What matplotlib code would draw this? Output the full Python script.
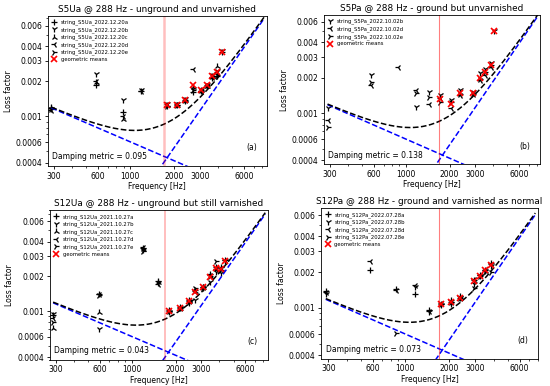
# Loss factor vs frequency for four violin top plates (288 Hz strings)
import numpy as np
import matplotlib.pyplot as plt
from matplotlib.ticker import NullFormatter

nan = np.nan

# --- S5Ua: unground and unvarnished ---
s5ua_freq = [287, 580, 885, 1182, 1773, 2074, 2380, 2702, 3026, 3340, 3615, 3941, 4240]
s5ua_a = [0.00118, 0.00184, 0.00108, 0.00166, 0.00122, 0.00124, 0.00136, 0.00161, 0.00165, 0.00182, 0.00215, 0.00222, 0.00355]
s5ua_b = [0.00115, 0.00229, 0.00139, 0.00168, 0.00128, 0.00128, 0.00140, 0.00170, 0.00169, 0.00186, 0.00225, 0.00245, 0.00365]
s5ua_c = [0.00120, 0.00196, 0.00095, nan, 0.00125, 0.00126, 0.00138, 0.00180, 0.00167, 0.00183, 0.00220, 0.00273, nan]
s5ua_d = [0.00114, 0.00200, 0.00100, 0.00165, 0.00127, 0.00127, 0.00137, 0.00253, 0.00166, 0.00185, 0.00218, 0.00240, nan]
s5ua_e = [0.00116, nan, nan, nan, 0.00123, 0.00125, 0.00139, 0.00168, 0.00168, 0.00184, 0.00222, 0.00228, nan]
s5ua_geo = [0.00125, 0.00126, 0.00138, 0.00184, 0.00167, 0.00184, 0.00220, 0.00240, 0.00360]

# --- S5Pa: ground but unvarnished ---
s5pa_freq = [290, 577, 880, 1165, 1452, 1729, 2047, 2350, 2899, 3222, 3524, 3830, 4070]
s5pa_b = [0.00110, 0.00211, nan, 0.00114, 0.00152, 0.00143, 0.00130, 0.00157, 0.00152, 0.00218, 0.00240, 0.00268, 0.00500]
s5pa_d = [0.00088, 0.00174, 0.00248, 0.00157, 0.00120, 0.00134, 0.00110, 0.00142, 0.00145, 0.00190, 0.00210, 0.00245, nan]
s5pa_e = [0.00076, 0.00185, nan, 0.00149, 0.00138, 0.00125, 0.00124, 0.00147, 0.00147, 0.00196, 0.00226, 0.00256, nan]
s5pa_geo = [0.00133, 0.00121, 0.00148, 0.00148, 0.00200, 0.00225, 0.00256, 0.00500]

# --- S12Ua: unground but still varnished ---
s12ua_freq = [288, 591, 1187, 1502, 1810, 2141, 2460, 2738, 3089, 3439, 3760, 4100, 4390]
s12ua_a = [0.00092, 0.00140, 0.00351, 0.00183, 0.00101, 0.00108, 0.00125, 0.00152, 0.00163, 0.00210, 0.00240, 0.00240, 0.00275]
s12ua_b = [0.00094, 0.00070, 0.00340, 0.00176, 0.00099, 0.00106, 0.00117, 0.00126, 0.00160, 0.00180, 0.00220, 0.00212, 0.00270]
s12ua_c = [0.00071, 0.00098, 0.00345, 0.00180, 0.00102, 0.00107, 0.00122, 0.00150, 0.00162, 0.00200, 0.00230, 0.00230, nan]
s12ua_d = [0.00088, 0.00141, 0.00360, 0.00173, 0.00103, 0.00107, 0.00123, 0.00148, 0.00163, 0.00205, 0.00232, 0.00235, 0.00276]
s12ua_e = [0.00081, 0.00139, 0.00330, nan, 0.00100, 0.00107, 0.00121, 0.00160, 0.00162, 0.00200, 0.00270, 0.00225, nan]
s12ua_geo = [0.00101, 0.00107, 0.00122, 0.00145, 0.00162, 0.00199, 0.00235, 0.00230, 0.00273]

# --- S12Pa: ground and varnished as normal ---
s12pa_freq = [288, 575, 864, 1164, 1455, 1763, 2042, 2343, 2939, 3253, 3503, 3821]
s12pa_a = [0.00138, 0.00208, 0.00145, 0.00130, 0.000955, 0.00108, 0.00116, 0.00125, 0.00172, 0.00190, 0.00210, 0.00240]
s12pa_b = [0.00131, nan, nan, 0.00150, 0.00092, 0.00106, 0.00107, 0.00120, 0.00160, 0.00185, 0.00206, 0.00225]
s12pa_d = [0.00135, 0.00247, 0.00141, 0.00157, 0.00094, 0.00110, 0.00113, 0.00122, 0.00175, 0.00188, 0.00210, 0.00235]
s12pa_e = [nan, nan, 0.00062, nan, nan, 0.00108, 0.00112, 0.00121, 0.00147, 0.00186, 0.00200, 0.00200]
s12pa_geo = [0.00108, 0.00112, 0.00122, 0.00168, 0.00187, 0.00208, 0.00229]

# model fit: low-frequency and high-frequency power laws
cutoff = 1700
a_low, p_low = 0.00118, -0.54
a_high, p_high = 1.65e-5, 1.8

xticks = [300, 600, 1000, 2000, 3000, 6000]
yticks = [0.0004, 0.0006, 0.001, 0.002, 0.003, 0.004, 0.006]
ytick_labels = ["0.0004", "0.0006", "0.001", "0.002", "0.003", "0.004", "0.006"]

markers = {"a": "+", "b": "1", "c": "2", "d": "3", "e": "4"}


def draw_panel(ax, title, prefix, freq, strings, geo, metric, letter, ylim, xlim, vline):
    f_model = np.geomspace(288, xlim[1] * 0.96, 200)
    low = a_low * (f_model / 288) ** p_low
    high = a_high * (f_model / 288) ** p_high

    freq = np.array(freq)
    for key, vals in strings.items():
        ax.plot(freq, vals, linestyle="none", marker=markers[key], color="black",
                markersize=4.5, markeredgewidth=0.9, label=prefix + key)
    ax.plot(freq[freq > cutoff], geo, linestyle="none", marker="x", color="red",
            markersize=4.5, markeredgewidth=1.2, label="geometric means", zorder=5)

    ax.plot(f_model, low, "--", color="blue", linewidth=1.1)
    ax.plot(f_model, high, "--", color="blue", linewidth=1.1)
    ax.plot(f_model, low + high, "--", color="black", linewidth=1.1)
    ax.axvline(cutoff, color="red", alpha=vline[0], linewidth=vline[1])

    ax.set_xscale("log")
    ax.set_yscale("log")
    ax.set_xlim(*xlim)
    ax.set_ylim(*ylim)
    ax.set_xticks(xticks)
    ax.set_xticklabels([str(t) for t in xticks])
    ax.set_yticks(yticks)
    ax.set_yticklabels(ytick_labels)
    ax.xaxis.set_minor_formatter(NullFormatter())
    ax.yaxis.set_minor_formatter(NullFormatter())
    ax.tick_params(labelsize=5.5, length=2.5, width=0.6, pad=1.5)
    ax.tick_params(which="minor", length=1.5, width=0.5)
    for s in ax.spines.values():
        s.set_linewidth(0.6)

    ax.set_title(title, fontsize=6.4, pad=3)
    ax.set_xlabel("Frequency [Hz]", fontsize=5.5, labelpad=1)
    ax.set_ylabel("Loss factor", fontsize=5.5, labelpad=2)
    ax.text(0.02, 0.06, "Damping metric = " + metric, transform=ax.transAxes,
            fontsize=5.5, va="center")
    ax.text(0.93, 0.12, letter, transform=ax.transAxes, fontsize=5.5, ha="center", va="center")
    ax.legend(loc="upper left", fontsize=3.8, frameon=False, handlelength=1,
              labelspacing=0.35, borderaxespad=0.3, handletextpad=0.8)


fig = plt.figure(figsize=(5.5, 3.86), dpi=100)
ax1 = fig.add_axes([0.087, 0.570, 0.398, 0.389])
ax2 = fig.add_axes([0.589, 0.574, 0.393, 0.387])
ax3 = fig.add_axes([0.090, 0.068, 0.397, 0.387])
ax4 = fig.add_axes([0.584, 0.071, 0.394, 0.389])

draw_panel(ax1, "S5Ua @ 288 Hz - unground and unvarnished", "string_S5Ua_2022.12.20",
           s5ua_freq, {"a": s5ua_a, "b": s5ua_b, "c": s5ua_c, "d": s5ua_d, "e": s5ua_e},
           s5ua_geo, "0.095", "(a)", (0.000374, 0.0073), (272, 8600), (0.25, 1.8))
draw_panel(ax2, "S5Pa @ 288 Hz - ground but unvarnished", "string_S5Pa_2022.10.02",
           s5pa_freq, {"b": s5pa_b, "d": s5pa_d, "e": s5pa_e},
           s5pa_geo, "0.138", "(b)", (0.000367, 0.00684), (272, 8400), (0.5, 0.8))
draw_panel(ax3, "S12Ua @ 288 Hz - unground but still varnished", "string_S12Ua_2021.10.27",
           s12ua_freq, {"a": s12ua_a, "b": s12ua_b, "c": s12ua_c, "d": s12ua_d, "e": s12ua_e},
           s12ua_geo, "0.043", "(c)", (0.000379, 0.00746), (272, 8600), (0.3, 1.2))
draw_panel(ax4, "S12Pa @ 288 Hz - ground and varnished as normal", "string_S12Pa_2022.07.28",
           s12pa_freq, {"a": s12pa_a, "b": s12pa_b, "d": s12pa_d, "e": s12pa_e},
           s12pa_geo, "0.073", "(d)", (0.000374, 0.00687), (268, 8000), (0.5, 0.8))

fig.savefig("out.png", dpi=100)
